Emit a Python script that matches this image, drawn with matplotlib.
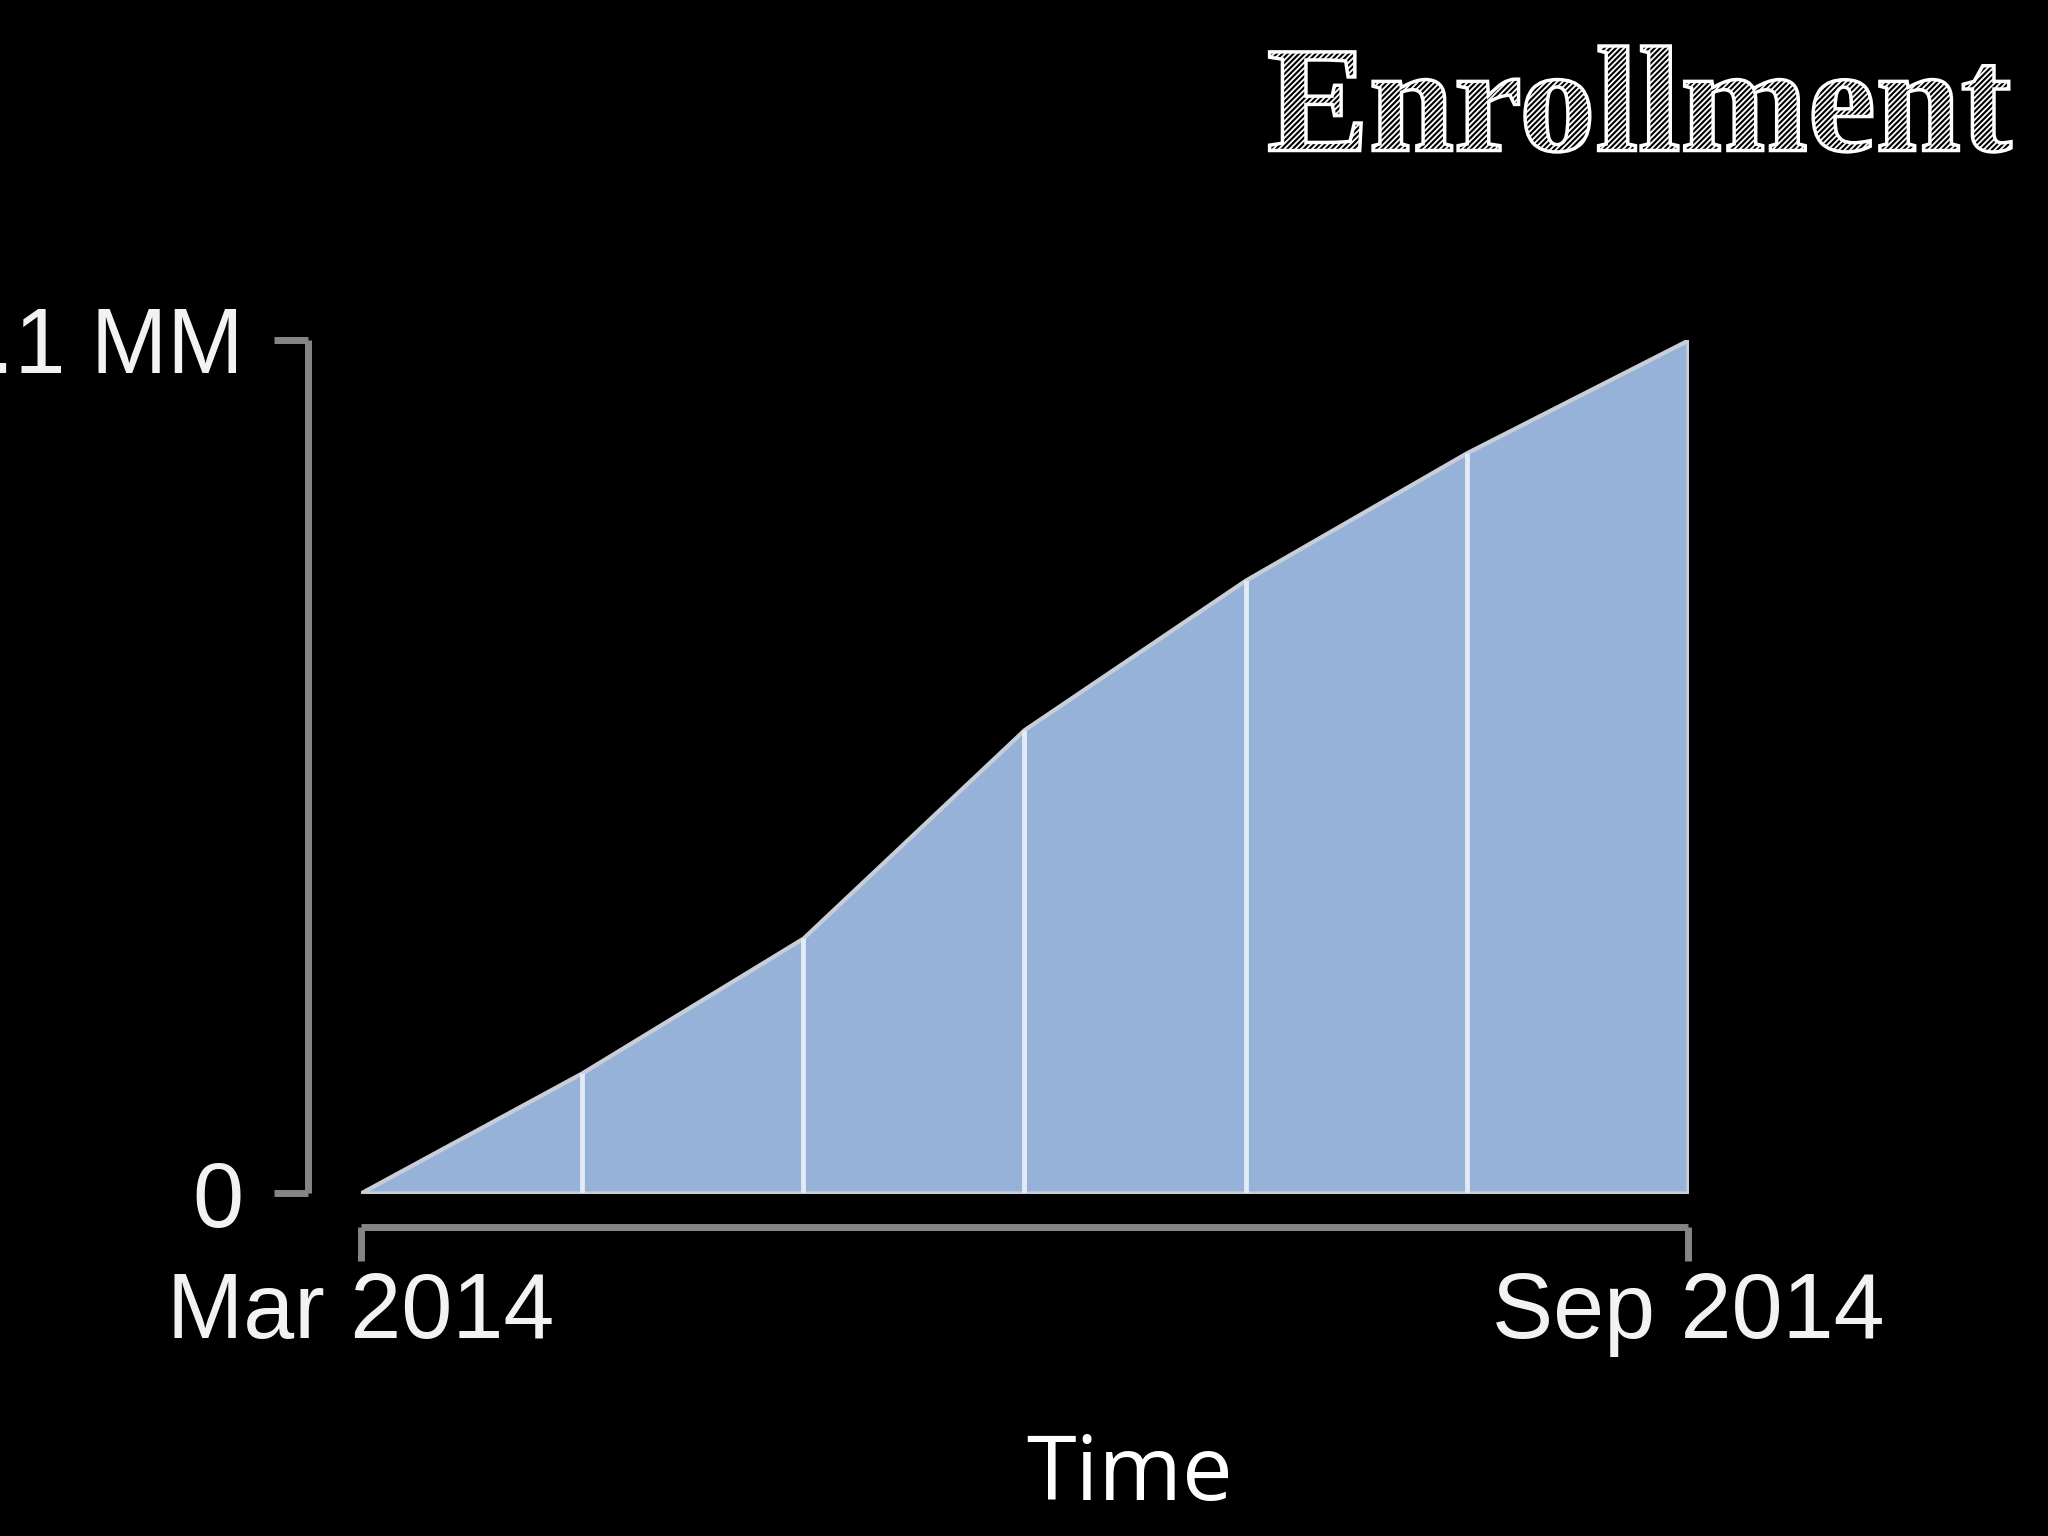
import matplotlib
matplotlib.use("Agg")
import matplotlib.pyplot as plt
import numpy as np
from matplotlib.textpath import TextPath
from matplotlib.patches import PathPatch
from matplotlib.font_manager import FontProperties
from matplotlib.transforms import Affine2D

# enrollment (millions), monthly Mar..Sep 2014
months = ["Mar 2014", "Apr 2014", "May 2014", "Jun 2014", "Jul 2014", "Aug 2014", "Sep 2014"]
enrollment = [0.0, 1.14, 2.42, 4.40, 5.82, 7.03, 8.1]
yTickLabels = ["0", "8.1 MM"]
title = "Enrollment"
xLabel = "Time"

W, H = 2048, 1536
DPI = 100
bg = "black"
fillColor = "#96b2d8"
edgeColor = "#c9ced6"
dividerColor = "#e2eaf5"
axisColor = "#858585"
textColor = "#f2f2f2"

plt.rcParams["font.family"] = ["Liberation Sans", "DejaVu Sans"]

fig = plt.figure(figsize=(W / DPI, H / DPI), dpi=DPI, facecolor=bg)

# plot area in pixel coords
left, right, top, bottom = 360.5, 1688.0, 340.0, 1193.0
ax = fig.add_axes([left / W, 1 - bottom / H, (right - left) / W, (bottom - top) / H])
ax.set_facecolor(bg)

x = np.arange(len(months))
y = np.array(enrollment)

ax.fill_between(x, 0, y, facecolor=fillColor, edgecolor=edgeColor, linewidth=3, zorder=2)
ax.vlines(x[1:-1], 0, y[1:-1], color=dividerColor, linewidth=3.5, zorder=3)

ax.set_xlim(x[0], x[-1])
ax.set_ylim(0, y[-1])

for side in ["top", "right"]:
    ax.spines[side].set_visible(False)

ax.spines["left"].set_position(("outward", 37.8))
ax.spines["left"].set_bounds(0, y[-1])
ax.spines["bottom"].set_position(("outward", 24.5))
ax.spines["bottom"].set_bounds(x[0], x[-1])
for side in ["left", "bottom"]:
    ax.spines[side].set_color(axisColor)
    ax.spines[side].set_linewidth(5)
    ax.spines[side].set_capstyle("butt")

ax.set_yticks([0, y[-1]], yTickLabels)
ax.set_xticks([x[0], x[-1]], [months[0], months[-1]])
ax.tick_params(axis="both", colors=axisColor, length=24.5, width=5, direction="out",
               labelcolor=textColor, labelsize=66)
ax.tick_params(axis="y", pad=22)
ax.tick_params(axis="x", pad=7)

# x axis title
fig.text(1130 / W, 1 - 1500 / H, xLabel, ha="center", va="baseline",
         fontsize=65, color="white", family=["Open Sans", "DejaVu Sans"], fontweight="medium")

# sketchy title: hatched outline text fitted into its box
overlay = fig.add_axes([0, 0, 1, 1], zorder=10)
overlay.set_xlim(0, W)
overlay.set_ylim(0, H)
overlay.axis("off")
overlay.patch.set_alpha(0)

plt.rcParams["hatch.linewidth"] = 1.3
tp = TextPath((0, 0), title, size=160, prop=FontProperties(family="Liberation Serif", weight="bold"))
verts = tp.vertices
x0, x1 = verts[:, 0].min(), verts[:, 0].max()
y0, y1 = verts[:, 1].min(), verts[:, 1].max()
boxL, boxR, boxT, boxB = 1267, 2011, 46, 152
sx = (boxR - boxL) / (x1 - x0)
sy = (boxB - boxT) / (y1 - y0)
tr = Affine2D().translate(-x0, -y0).scale(sx, sy).translate(boxL, H - boxB)
titlePath = tr.transform_path(tp)
overlay.add_patch(PathPatch(titlePath, facecolor=bg, edgecolor="white", hatch="/" * 6, linewidth=2.5))

fig.savefig("out.png", dpi=DPI, facecolor=bg)
